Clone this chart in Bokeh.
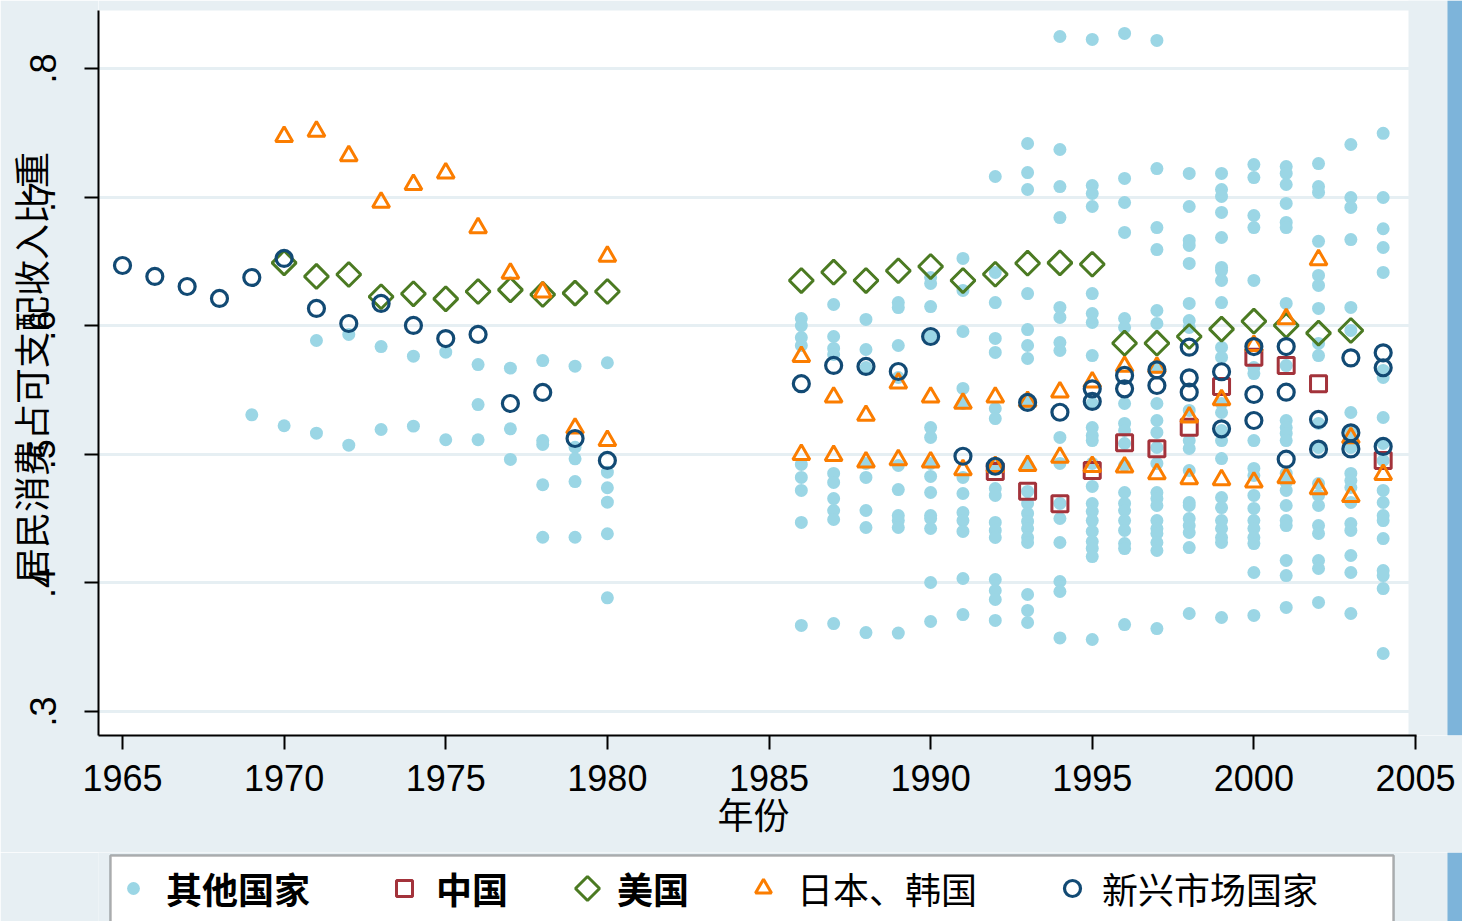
import numpy as np
from bokeh.plotting import figure
from bokeh.layouts import column
from bokeh.models import (Range1d, FixedTicker, BoxAnnotation, Legend, LegendItem,
                          CustomJSTickFormatter, AllLabels)
from bokeh.embed import file_html
from bokeh.resources import INLINE

# ---------------- data ----------------
x_ticks = [1965, 1970, 1975, 1980, 1985, 1990, 1995, 2000, 2005]
y_ticks = [0.3, 0.4, 0.5, 0.6, 0.7, 0.8]

legend_labels = ["其他国家", "中国", "美国", "日本、韩国", "新兴市场国家"]
x_title = "年份"
y_title = "居民消费占可支配收入比重"

# 其他国家 (one list of values per year)
other_years = [1969, 1970, 1971, 1972, 1973, 1974, 1975, 1976, 1977, 1978, 1979, 1980,
               1986, 1987, 1988, 1989, 1990, 1991, 1992, 1993, 1994, 1995, 1996, 1997,
               1998, 1999, 2000, 2001, 2002, 2003, 2004]
other_values = [
    [0.5307],
    [0.5222],
    [0.5885, 0.5164],
    [0.5932, 0.5071],
    [0.5838, 0.5193],
    [0.5763, 0.5219],
    [0.5794, 0.5113],
    [0.5698, 0.5387, 0.5113],
    [0.5670, 0.5198, 0.4960],
    [0.5729, 0.5107, 0.5076, 0.4763, 0.4355],
    [0.5685, 0.5055, 0.4965, 0.4788, 0.4355],
    [0.5712, 0.4861, 0.4740, 0.4628, 0.4382, 0.3884],
    [0.6056, 0.6001, 0.5908, 0.5846, 0.4921, 0.4820, 0.4719, 0.4470, 0.3669],
    [0.6165, 0.5916, 0.5823, 0.5776, 0.4851, 0.4781, 0.4656, 0.4563, 0.4493, 0.3684],
    [0.6049, 0.5815, 0.5675, 0.4929, 0.4820, 0.4563, 0.4431, 0.3614],
    [0.6180, 0.6141, 0.5846, 0.5597, 0.4913, 0.4726, 0.4524, 0.4485, 0.4431, 0.3610],
    [0.6375, 0.6328, 0.6149, 0.5916, 0.5208, 0.5131, 0.4929, 0.4828, 0.4703, 0.4524,
     0.4501, 0.4423, 0.4003, 0.3700],
    [0.6523, 0.6274, 0.5955, 0.5512, 0.5395, 0.4820, 0.4695, 0.4547, 0.4485, 0.4400,
     0.4034, 0.3754],
    [0.7160, 0.6414, 0.6180, 0.5901, 0.5792, 0.5356, 0.5278, 0.4905, 0.4734, 0.4680,
     0.4470, 0.4408, 0.4353, 0.4026, 0.3941, 0.3871, 0.3708],
    [0.7417, 0.7191, 0.7059, 0.6250, 0.5970, 0.5846, 0.5745, 0.5403, 0.4913, 0.4711,
     0.4618, 0.4540, 0.4478, 0.4423, 0.4353, 0.4314, 0.3910, 0.3786, 0.3692],
    [0.8249, 0.7370, 0.7082, 0.6841, 0.6142, 0.6064, 0.5869, 0.5807, 0.5131, 0.4929,
     0.4618, 0.4501, 0.4314, 0.4011, 0.3933, 0.3572],
    [0.8226, 0.7090, 0.7028, 0.6927, 0.6250, 0.6095, 0.6025, 0.5768, 0.5395, 0.5208,
     0.5146, 0.5107, 0.4929, 0.4750, 0.4617, 0.4555, 0.4485, 0.4400, 0.4322, 0.4268,
     0.4205, 0.3560],
    [0.8273, 0.7145, 0.6958, 0.6725, 0.6056, 0.5986, 0.5395, 0.5240, 0.5185, 0.5084,
     0.4913, 0.4703, 0.4618, 0.4563, 0.4485, 0.4408, 0.4306, 0.4267, 0.3676],
    [0.8218, 0.7222, 0.6763, 0.6592, 0.6118, 0.6017, 0.5675, 0.5395, 0.5263, 0.5170,
     0.5053, 0.4929, 0.4703, 0.4656, 0.4602, 0.4485, 0.4423, 0.4384, 0.4314, 0.4252,
     0.3645],
    [0.7184, 0.6927, 0.6663, 0.6624, 0.6484, 0.6173, 0.6040, 0.5986, 0.5341, 0.5107,
     0.5045, 0.4874, 0.4625, 0.4602, 0.4501, 0.4446, 0.4392, 0.4275, 0.3762],
    [0.7184, 0.7059, 0.7005, 0.6881, 0.6686, 0.6453, 0.6429, 0.6352, 0.6180, 0.5831,
     0.5753, 0.5395, 0.5325, 0.5185, 0.5107, 0.4967, 0.4664, 0.4586, 0.4485, 0.4423,
     0.4353, 0.4314, 0.3731],
    [0.7253, 0.7152, 0.6857, 0.6763, 0.6352, 0.5675, 0.5628, 0.5107, 0.4890, 0.4835,
     0.4680, 0.4579, 0.4485, 0.4423, 0.4353, 0.4306, 0.4081, 0.3747],
    [0.7238, 0.7184, 0.7098, 0.6951, 0.6803, 0.6763, 0.6173, 0.5690, 0.5263, 0.5208,
     0.5162, 0.5107, 0.4851, 0.4781, 0.4719, 0.4602, 0.4485, 0.4446, 0.4174, 0.4057,
     0.3809],
    [0.7261, 0.7082, 0.7036, 0.6656, 0.6391, 0.6313, 0.6134, 0.5862, 0.5768, 0.5240,
     0.5053, 0.4773, 0.4680, 0.4602, 0.4446, 0.4384, 0.4174, 0.4112, 0.3848],
    [0.7409, 0.6997, 0.6920, 0.6670, 0.6142, 0.5963, 0.5325, 0.5185, 0.5131, 0.5053,
     0.4851, 0.4796, 0.4742, 0.4625, 0.4462, 0.4408, 0.4213, 0.4081, 0.3762],
    [0.7496, 0.6997, 0.6754, 0.6608, 0.6414, 0.5652, 0.5597, 0.5286, 0.5084, 0.4952,
     0.4719, 0.4625, 0.4524, 0.4485, 0.4345, 0.4096, 0.4057, 0.3956, 0.3451],
]

# 中国
china_years = [1992, 1993, 1994, 1995, 1996, 1997, 1998, 1999, 2000, 2001, 2002, 2004]
china_values = [0.4866, 0.4713, 0.4615, 0.4874, 0.5089, 0.5043, 0.5211, 0.5527, 0.5755,
                0.5691, 0.5548, 0.4952]

# 美国
usa_years = [1970, 1971, 1972, 1973, 1974, 1975, 1976, 1977, 1978, 1979, 1980,
             1986, 1987, 1988, 1989, 1990, 1991, 1992, 1993, 1994, 1995,
             1996, 1997, 1998, 1999, 2000, 2001, 2002, 2003]
usa_values = [0.6489, 0.6383, 0.6398, 0.6225, 0.6248, 0.6209, 0.6266, 0.6279, 0.6243, 0.6253,
              0.6266, 0.6351, 0.6416, 0.6351, 0.6427, 0.6460, 0.6351, 0.6400, 0.6486, 0.6489,
              0.6478, 0.5864, 0.5864, 0.5916, 0.5973, 0.6035, 0.6002, 0.5942, 0.5963]

# 日本、韩国
jk_years = [1970, 1971, 1972, 1973, 1974, 1975, 1976, 1977, 1978, 1979, 1980, 1980,
            1986, 1987, 1988, 1989, 1990, 1991, 1992, 1993, 1994, 1995, 1996, 1997,
            1998, 1999, 2000, 2001, 2002, 2003,
            1986, 1987, 1988, 1989, 1990, 1991, 1992, 1993, 1994, 1995, 1996, 1997,
            1998, 1999, 2000, 2001, 2002, 2003, 2004]
jk_values = [0.7471, 0.7512, 0.7321, 0.6960, 0.7098, 0.7186, 0.6761, 0.6408, 0.6261, 0.5203,
             0.6540, 0.5107,
             0.5760, 0.5444, 0.5302, 0.5553, 0.5444, 0.5397, 0.5444, 0.5411, 0.5483, 0.5561,
             0.5683, 0.5677, 0.5289, 0.5424, 0.5846, 0.6054, 0.6512, 0.5128,
             0.4998, 0.4990, 0.4939, 0.4957, 0.4939, 0.4880, 0.4905, 0.4913, 0.4977, 0.4905,
             0.4900, 0.4848, 0.4810, 0.4802, 0.4783, 0.4817, 0.4732, 0.4672, 0.4843]

# 新兴市场国家
em_years = [1965, 1966, 1967, 1968, 1969, 1970, 1971, 1972, 1973, 1974, 1975, 1976, 1977,
            1978, 1979, 1980, 1986, 1987, 1988, 1989, 1990, 1991, 1992, 1993, 1994,
            1995, 1995, 1996, 1996, 1997, 1997, 1998, 1998, 1998, 1999, 1999,
            2000, 2000, 2000, 2001, 2001, 2001, 2002, 2002, 2003, 2003, 2003,
            2004, 2004, 2004]
em_values = [0.6468, 0.6383, 0.6305, 0.6212, 0.6375, 0.6523, 0.6134, 0.6017, 0.6173, 0.6002,
             0.5900, 0.5932, 0.5395, 0.5481, 0.5123, 0.4952, 0.5549, 0.5691, 0.5683, 0.5644,
             0.5916, 0.4985, 0.4907, 0.5403, 0.5327,
             0.5509, 0.5411, 0.5613, 0.5509, 0.5657, 0.5535, 0.5833, 0.5595, 0.5483,
             0.5642, 0.5198, 0.5838, 0.5465, 0.5263, 0.5838, 0.5483, 0.4962,
             0.5271, 0.5040, 0.5750, 0.5167, 0.5042, 0.5789, 0.5673, 0.5061]

# ---------------- style ----------------
BG = "#e7eff3"
GRID = "#e6eff3"
STRIPE = "#7db4da"
C_OTHER = "#9bd6e5"
C_CHINA = "#a3333b"
C_USA = "#4b7a22"
C_JK = "#fb7d00"
C_EM = "#124a74"
CJK = "Noto Sans CJK SC"
LAT = "Liberation Sans"

W = 1462
H1 = 852
H2 = 921 - H1
LEFT = 98

STYLE = {
    "other": dict(marker="circle", size=13, fill_color=C_OTHER, line_color=None),
    "china": dict(marker="square", size=16, fill_alpha=0, line_color=C_CHINA, line_width=3),
    "usa": dict(marker="square", angle=np.pi / 4, size=17, fill_alpha=0, line_color=C_USA,
                line_width=3),
    "jk": dict(marker="triangle", size=17, fill_alpha=0, line_color=C_JK, line_width=3),
    "em": dict(marker="circle", size=16, fill_alpha=0, line_color=C_EM, line_width=3.2),
}

ox, oy = [], []
for yr, vals in zip(other_years, other_values):
    ox.extend([yr] * len(vals))
    oy.extend(vals)

# ---------------- main chart ----------------
PX_PER_YEAR = 32.325
PX_PER_UNIT = 1286.0
x0 = 1965 - (122 - LEFT) / PX_PER_YEAR
x1 = x0 + (W - LEFT) / PX_PER_YEAR
y_top = 0.8 + 68 / PX_PER_UNIT
y_bot = y_top - 735 / PX_PER_UNIT
p = figure(width=W, height=H1, output_backend="svg", toolbar_location=None,
           x_range=Range1d(x0, x1), y_range=Range1d(y_bot, y_top),
           min_border_left=LEFT, min_border_right=0, min_border_top=0,
           min_border_bottom=H1 - 735)
p.background_fill_color = "white"
p.border_fill_color = BG
p.outline_line_color = None

p.xgrid.visible = False
p.ygrid.ticker = FixedTicker(ticks=y_ticks)
p.ygrid.grid_line_color = GRID
p.ygrid.grid_line_width = 3

# background outside the plot region (top and right), and decorative stripe at the right edge
p.add_layout(BoxAnnotation(bottom=y_top - 10 / PX_PER_UNIT, fill_color=BG,
                           fill_alpha=1, line_alpha=0, level="underlay"))
p.add_layout(BoxAnnotation(left=1965 + (1408 - 122) / PX_PER_YEAR, fill_color=BG,
                           fill_alpha=1, line_alpha=0, level="underlay"))
p.add_layout(BoxAnnotation(left=1965 + (1447 - 122) / PX_PER_YEAR, fill_color=STRIPE,
                           fill_alpha=1, line_alpha=0, level="underlay"))

p.xaxis.ticker = FixedTicker(ticks=x_ticks)
p.xaxis.bounds = (x0, 2005.03)
p.yaxis.bounds = (y_bot, y_top - 10 / PX_PER_UNIT)
p.yaxis.ticker = FixedTicker(ticks=y_ticks)
p.yaxis.formatter = CustomJSTickFormatter(code="return tick.toFixed(1).replace(/^0/, '');")
for ax in (p.xaxis[0], p.yaxis[0]):
    ax.axis_line_color = "black"
    ax.axis_line_width = 2
    ax.major_tick_line_color = "black"
    ax.major_tick_line_width = 2
    ax.major_tick_out = 14
    ax.major_tick_in = 0
    ax.minor_tick_line_color = None
    ax.major_label_text_font = LAT
    ax.major_label_text_font_size = "36px"
    ax.major_label_text_color = "black"
    ax.major_label_policy = AllLabels()
    ax.axis_label_text_font = CJK
    ax.axis_label_text_font_size = "36px"
    ax.axis_label_text_font_style = "normal"
    ax.axis_label_text_color = "black"
p.yaxis.major_label_orientation = "parallel"
p.yaxis.major_label_standoff = 29
p.yaxis.axis_label = y_title
p.yaxis.axis_label_standoff = -29
p.xaxis.major_label_standoff = 15
# em + en space keep the title centred under the plot region rather than the whole frame
p.xaxis.axis_label = x_title + "\u2003\u2002"
p.xaxis.axis_label_standoff = -7

r_other = p.scatter(ox, oy, **STYLE["other"])
r_china = p.scatter(china_years, china_values, **STYLE["china"])
r_usa = p.scatter(usa_years, usa_values, **STYLE["usa"])
r_jk = p.scatter(jk_years, jk_values, **STYLE["jk"])
r_em = p.scatter(em_years, em_values, **STYLE["em"])

# ---------------- legend strip (coordinates = pixels of the strip) ----------------
q = figure(width=W, height=H2, output_backend="svg", toolbar_location=None,
           x_range=Range1d(LEFT, W), y_range=Range1d(H2, 0),
           min_border_left=LEFT, min_border_right=0, min_border_top=0, min_border_bottom=0)
q.axis.visible = False
q.grid.visible = False
q.outline_line_color = None
q.background_fill_color = BG
q.border_fill_color = BG
q.add_layout(BoxAnnotation(left=110, right=1393, top=855 - H1, bottom=H2 + 40,
                           fill_color="white", fill_alpha=1, line_color="black",
                           line_width=2.5, level="underlay"))
q.add_layout(BoxAnnotation(left=1447, right=W, fill_color=STRIPE, fill_alpha=1, line_alpha=0,
                           level="underlay"))

# legend keys: one point with no position, so only the legend shows the symbol
keys = {k: q.scatter([np.nan], [np.nan], **STYLE[k]) for k in ["other", "china", "jk", "em"]}
# Bokeh legends draw markers unrotated, so the diamond key is placed in the strip itself
KEY_Y = 888 - H1
keys["usa"] = q.scatter([np.nan], [np.nan], marker="square", fill_alpha=0, line_alpha=0)
q.scatter([587], [KEY_Y], **STYLE["usa"])

entries = [
    (legend_labels[0], "other", 133, 32, 17, "bold"),
    (legend_labels[1], "china", 404, 40, 12, "bold"),
    (legend_labels[2], "usa", 587, 40, 10, "bold"),
    (legend_labels[3], "jk", 763, 40, 14, "normal"),
    (legend_labels[4], "em", 1072, 40, 10, "normal"),
]
GH = 56
for lab, key, cx, gw, st, style in entries:
    left = cx - gw / 2
    bottom_from_top = (888 + GH / 2) - H1
    lg = Legend(items=[LegendItem(label=lab, renderers=[keys[key]])],
                location=(left - LEFT, H2 - bottom_from_top),
                glyph_width=gw, glyph_height=GH, label_standoff=st,
                padding=0, margin=0, spacing=0,
                border_line_alpha=0, background_fill_alpha=0,
                label_text_font=CJK, label_text_font_size="36px",
                label_text_font_style=style, label_text_color="black")
    q.add_layout(lg, "center")

layout = column(p, q, spacing=0)
open("out.html", "w").write(file_html(layout, INLINE))
